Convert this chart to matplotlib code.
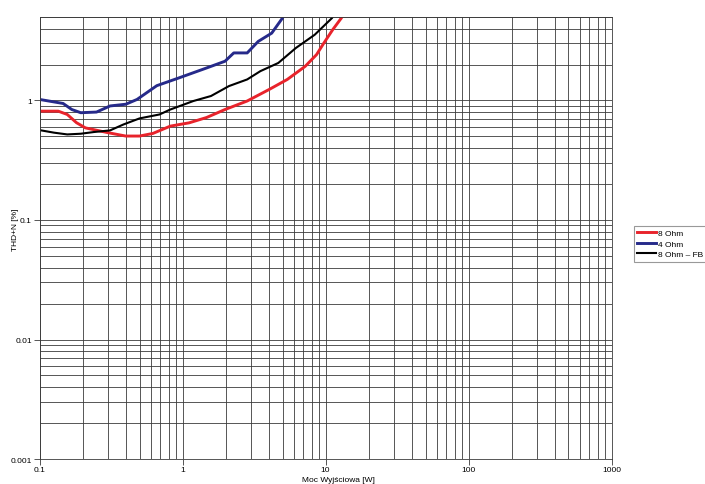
import numpy as np
import matplotlib
matplotlib.use('Agg')
from matplotlib import pyplot as plt
from matplotlib.ticker import LogLocator, FixedLocator, NullFormatter

plt.rcParams['font.family'] = ['Liberation Sans Narrow', 'Liberation Sans', 'DejaVu Sans']

# values (power [W], THD+N [%])
p_8ohm = [0.1, 0.135, 0.156, 0.181, 0.209, 0.30, 0.40, 0.50, 0.62, 0.82, 1.11, 1.47,
          1.98, 2.83, 4.05, 5.4, 7.2, 8.65, 9.6, 11.2, 12.9, 13.5]
thd_8ohm = [0.814, 0.814, 0.764, 0.652, 0.59, 0.538, 0.504, 0.504, 0.53, 0.61, 0.65, 0.72,
            0.84, 0.99, 1.24, 1.50, 1.93, 2.42, 2.95, 3.9, 4.9, 5.6]

p_4ohm = [0.1, 0.146, 0.168, 0.194, 0.25, 0.311, 0.40, 0.48, 0.66, 0.95, 1.47, 1.98,
          2.28, 2.83, 3.38, 4.2, 5.0, 5.2]
thd_4ohm = [1.02, 0.944, 0.84, 0.79, 0.80, 0.90, 0.93, 1.02, 1.33, 1.55, 1.87, 2.13,
            2.50, 2.50, 3.12, 3.66, 4.9, 5.6]

p_fb = [0.1, 0.126, 0.156, 0.194, 0.241, 0.311, 0.386, 0.50, 0.69, 0.82, 1.19, 1.58,
        2.11, 2.83, 3.5, 4.67, 6.2, 8.4, 11.1, 11.6]
thd_fb = [0.565, 0.538, 0.52, 0.527, 0.545, 0.562, 0.63, 0.708, 0.764, 0.84, 0.99, 1.09,
          1.32, 1.50, 1.76, 2.06, 2.75, 3.55, 4.9, 5.4]

x_ticks = [0.1, 1, 10, 100, 1000]
x_labels = ['0.1', '1', '10', '100', '1000']
y_ticks = [0.001, 0.01, 0.1, 1]
y_labels = ['0.001', '0.01', '0.1', '1']

fig = plt.figure(figsize=(7.05, 4.85), dpi=100)
ax = fig.add_axes([0.0562, 0.0515, 0.8112, 0.9115])

ax.plot(p_8ohm, thd_8ohm, color='#e8232b', lw=2.1, label='8 Ohm')
ax.plot(p_4ohm, thd_4ohm, color='#262a8a', lw=2.1, label='4 Ohm')
ax.plot(p_fb, thd_fb, color='#000000', lw=1.5, label='8 Ohm \u2013 FB')

ax.set_xscale('log')
ax.set_yscale('log')
ax.set_xlim(0.1, 1000)
ax.set_ylim(0.001, 5)

ax.xaxis.set_major_locator(FixedLocator(x_ticks))
ax.yaxis.set_major_locator(FixedLocator(y_ticks))
ax.set_xticklabels(x_labels)
ax.set_yticklabels(y_labels)
ax.xaxis.set_minor_locator(LogLocator(base=10, subs=np.arange(2, 10)))
ax.yaxis.set_minor_locator(LogLocator(base=10, subs=np.arange(2, 10)))
ax.xaxis.set_minor_formatter(NullFormatter())
ax.yaxis.set_minor_formatter(NullFormatter())

ax.grid(which='both', color='#3a3a3a', lw=0.6)
ax.set_axisbelow(True)
ax.tick_params(which='major', length=4, width=0.6, color='#3a3a3a', labelsize=6, pad=1.5)
ax.tick_params(axis='x', pad=1.0)
ax.tick_params(which='minor', length=0)
for s in ax.spines.values():
    s.set_color('#3a3a3a')
    s.set_linewidth(0.6)

ax.set_xlabel('Moc Wyjściowa [W]', fontsize=6)
ax.xaxis.set_label_coords(0.522, -0.039)
ax.set_ylabel('THD+N [%]', fontsize=6)
ax.yaxis.set_label_coords(-0.036, 0.52)

leg = ax.legend(loc='upper left', bbox_to_anchor=(1.0385, 0.528), fontsize=6,
                frameon=True, fancybox=False, edgecolor='#808080', handlelength=2.3,
                handletextpad=0.2, borderpad=0.4, labelspacing=0.35, borderaxespad=0)
leg.get_frame().set_linewidth(0.8)

fig.savefig('out.png', dpi=100)
